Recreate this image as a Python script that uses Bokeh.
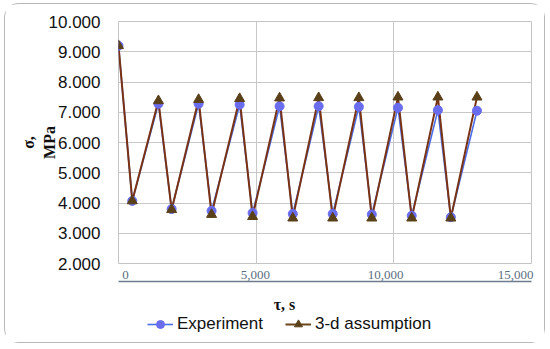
import math
from bokeh.plotting import figure
from bokeh.layouts import column
from bokeh.models import (Range1d, LinearAxis, FixedTicker, NumeralTickFormatter,
                          Label, Legend, LegendItem, Grid)
from bokeh.embed import file_html
from bokeh.resources import INLINE

# ---- data ----
time_s = [0, 500, 1450, 1930, 2910, 3380, 4400, 4870, 5850, 6330,
          7270, 7780, 8730, 9200, 10150, 10650, 11600, 12070, 13020]
sigma_experiment = [9.20, 4.07, 7.28, 3.80, 7.28, 3.74, 7.25, 3.67, 7.20, 3.64,
                    7.20, 3.64, 7.18, 3.62, 7.15, 3.58, 7.07, 3.53, 7.05]
sigma_assumption = [9.20, 4.07, 7.38, 3.78, 7.42, 3.62, 7.45, 3.55, 7.47, 3.50,
                    7.48, 3.50, 7.48, 3.50, 7.50, 3.50, 7.50, 3.50, 7.50]
x_ticks = [0, 5000, 10000, 15000]
y_ticks = [2, 3, 4, 5, 6, 7, 8, 9, 10]
series_names = ["Experiment", "3-d assumption"]
x_title = "τ, s"
y_title = "σ,\nMPa"

exp_color = "#4b6fe8"
exp_marker = "#6a6cee"
asm_line = "#7a3214"
asm_marker = "#5a4018"

p = figure(width=539, height=286, output_backend="svg", toolbar_location=None,
           x_range=Range1d(0, 15000), y_range=Range1d(2, 10),
           x_axis_location=None,
           min_border_left=113, min_border_top=17, min_border_right=13,
           min_border_bottom=27)
p.background_fill_color = "white"
p.border_fill_color = "white"
p.outline_line_color = "#c4c4c4"

grid_color = "#c8c8c8"
if len(p.xgrid) == 0:
    p.add_layout(Grid(dimension=0, ticker=FixedTicker(ticks=x_ticks)), "center")
for g in p.xgrid:
    g.ticker = FixedTicker(ticks=x_ticks)
    g.grid_line_color = grid_color
for g in p.ygrid:
    g.ticker = FixedTicker(ticks=y_ticks)
    g.grid_line_color = grid_color

# y axis
ya = p.yaxis[0]
ya.ticker = FixedTicker(ticks=y_ticks)
ya.formatter = NumeralTickFormatter(format="0.000")
ya.axis_line_color = None
ya.major_tick_line_color = None
ya.minor_tick_line_color = None
ya.major_tick_out = 0
ya.major_label_standoff = 18
ya.major_label_text_font = "Liberation Sans"
ya.major_label_text_font_size = "17px"
ya.major_label_text_color = "#111111"
ya.axis_label = y_title
ya.axis_label_standoff = -12
ya.axis_label_text_font = "Liberation Serif"
ya.axis_label_text_font_style = "bold"
ya.axis_label_text_font_size = "16px"
ya.axis_label_text_color = "#111111"

# x axes (labels, then a separate rule line beneath them)
p.extra_x_ranges = {"lab": Range1d(-269, 15615)}
xa = LinearAxis(x_range_name="lab", ticker=FixedTicker(ticks=x_ticks),
                formatter=NumeralTickFormatter(format="0,0"))
xa.axis_line_color = None
xa.major_tick_line_color = None
xa.minor_tick_line_color = None
xa.major_tick_out = 0
xa.major_tick_in = 0
xa.major_label_standoff = 7
xa.major_label_text_font = "Liberation Serif"
xa.major_label_text_font_size = "13px"
xa.major_label_text_color = "#5a6e7e"
p.add_layout(xa, "below")

xb = LinearAxis(x_range_name="lab", ticker=FixedTicker(ticks=[]))
xb.axis_line_color = "#6d7d8c"
xb.axis_line_width = 1.3
xb.major_tick_line_color = None
xb.minor_tick_line_color = None
xb.major_tick_out = 0
xb.minor_tick_out = 0
p.add_layout(xb, "below")

# series
l1 = p.line(time_s, sigma_experiment, line_color=exp_color, line_width=1.6)
l2 = p.line(time_s, sigma_assumption, line_color=asm_line, line_width=2)
c1 = p.scatter(time_s, sigma_experiment, marker="circle", size=9,
               fill_color=exp_marker, line_color=exp_marker)
t2 = p.scatter(time_s, sigma_assumption, marker="triangle", size=10,
               fill_color=asm_marker, line_color=asm_marker)

# ---- bottom strip: x title and legend ----
q = figure(width=539, height=52, output_backend="svg", toolbar_location=None,
           x_range=Range1d(0, 15000), y_range=Range1d(2, 10),
           x_axis_location=None, y_axis_location=None,
           min_border_left=0, min_border_right=0, min_border_top=0,
           min_border_bottom=0)
q.outline_line_color = None
q.background_fill_color = "white"
q.border_fill_color = "white"
for g in list(q.xgrid) + list(q.ygrid):
    g.visible = False

# hidden stand-ins that only supply the legend swatches
ql1 = q.line(time_s[:1], sigma_experiment[:1], line_color=exp_color,
             line_width=1.6, visible=False)
qc1 = q.scatter(time_s[:1], sigma_experiment[:1], marker="circle", size=9,
                fill_color=exp_marker, line_color=exp_marker, visible=False)
ql2 = q.line(time_s[:1], sigma_assumption[:1], line_color="#6b4418",
             line_width=2, visible=False)
qt2 = q.scatter(time_s[:1], sigma_assumption[:1], marker="triangle", size=10,
                fill_color=asm_marker, line_color=asm_marker, visible=False)

legend = Legend(items=[LegendItem(label=series_names[0], renderers=[ql1, qc1]),
                       LegendItem(label=series_names[1], renderers=[ql2, qt2])],
                location=(29, 8), orientation="horizontal",
                border_line_color=None, background_fill_alpha=0,
                inactive_fill_alpha=0,
                padding=0, margin=0, spacing=22, glyph_width=26, glyph_height=20,
                label_standoff=4, label_height=20,
                label_text_font="Liberation Sans", label_text_font_size="17px",
                label_text_color="#111111")
q.add_layout(legend, "center")

q.add_layout(Label(x=166, y=38, x_units="screen", y_units="screen",
                   text=x_title, text_align="center", text_baseline="middle",
                   text_font="Liberation Serif", text_font_style="bold",
                   text_font_size="16px", text_color="#111111"))

layout = column(p, q, spacing=0,
                styles={"margin-left": "4px", "margin-top": "3px",
                        "border": "1px solid #b8b8b8", "border-radius": "14px"})
open("out.html", "w").write(file_html(layout, INLINE))
